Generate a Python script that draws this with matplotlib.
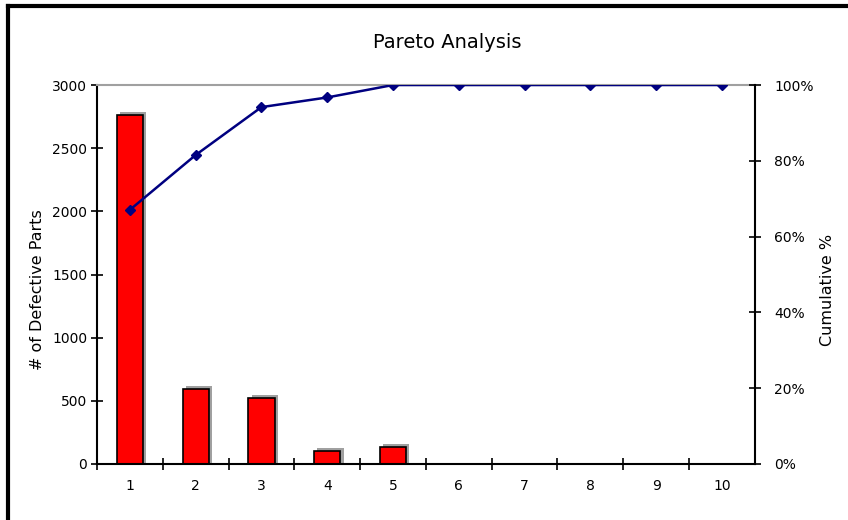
import matplotlib.pyplot as plt
from matplotlib.lines import Line2D
from matplotlib.ticker import FixedLocator, NullFormatter

plt.rcParams['font.family'] = ['DejaVu Sans']

categories = [1, 2, 3, 4, 5, 6, 7, 8, 9, 10]
defects = [2760, 595, 520, 105, 135, 0, 0, 0, 0, 0]
left_ticks = [0, 500, 1000, 1500, 2000, 2500, 3000]
right_ticks = [0, 20, 40, 60, 80, 100]
right_labels = ['0%', '20%', '40%', '60%', '80%', '100%']

total = sum(defects)
cumulative = []
running = 0
for d in defects:
    running += d
    cumulative.append(running / total * 100)

fig = plt.figure(figsize=(8.48, 5.2), dpi=100)
ax = fig.add_axes([0.1144, 0.1077, 0.7756, 0.7288])

# shadow then bars
ax.bar([c + 0.05 for c in categories], [d + 25 if d > 0 else 0 for d in defects],
       width=0.4, color='#a0a0a0', zorder=1)
ax.bar(categories, defects, width=0.4, color='#ff0000', edgecolor='black',
       linewidth=1.2, zorder=2)

ax.set_xlim(0.5, 10.5)
ax.set_ylim(0, 3000)
ax.set_yticks(left_ticks)
ax.set_yticklabels([str(t) for t in left_ticks], fontsize=10)
ax.set_xticks(categories)
ax.set_xticklabels([str(c) for c in categories], fontsize=10)
ax.tick_params(axis='x', length=0, pad=11)
ax.xaxis.set_minor_locator(FixedLocator([c + 0.5 for c in categories[:-1]] + [0.5]))
ax.xaxis.set_minor_formatter(NullFormatter())
ax.tick_params(axis='x', which='minor', direction='inout', length=8, width=1.2)
ax.tick_params(axis='y', direction='inout', length=8, width=1.2, pad=3)
ax.set_ylabel('# of Defective Parts', fontsize=11.5)
ax.yaxis.set_label_coords(-0.079, 0.46)

for s in ['left', 'bottom']:
    ax.spines[s].set_linewidth(1.5)
ax.spines['top'].set_color('#a0a0a0')
ax.spines['top'].set_linewidth(1.5)
ax.spines['right'].set_visible(False)

ax2 = ax.twinx()
ax2.plot(categories, cumulative, color='#000080', linewidth=1.8,
         marker='D', markersize=5, zorder=3)
ax2.set_ylim(0, 100)
ax2.set_yticks(right_ticks)
ax2.set_yticklabels(right_labels, fontsize=10)
ax2.tick_params(axis='y', direction='inout', length=8, width=1.2, pad=10)
ax2.set_ylabel('Cumulative %', fontsize=11.5, rotation=90)
ax2.yaxis.set_label_coords(1.099, 0.46)
ax2.spines['right'].set_linewidth(1.5)
ax2.spines['top'].set_visible(False)
ax2.spines['left'].set_visible(False)
ax2.spines['bottom'].set_visible(False)

fig.text(0.528, 0.918, 'Pareto Analysis', ha='center', va='center', fontsize=14)

# outer frame (top and left edges only)
fig.add_artist(Line2D([0.009, 1.0], [0.988, 0.988], color='black', linewidth=3,
                      transform=fig.transFigure))
fig.add_artist(Line2D([0.010, 0.010], [0.0, 0.989], color='black', linewidth=3,
                      transform=fig.transFigure))

fig.savefig('out.png', dpi=100)
